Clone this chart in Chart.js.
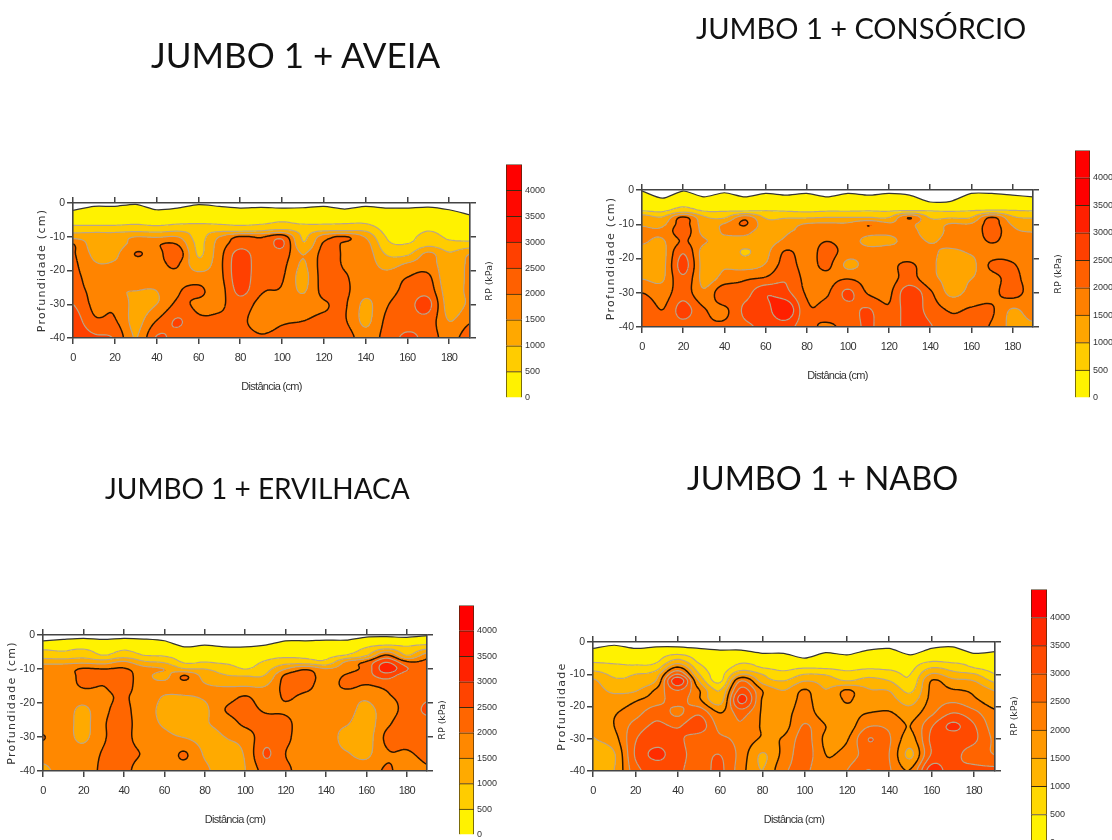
<!DOCTYPE html>
<html>
<head>
<meta charset="utf-8">
<script src="https://cdn.jsdelivr.net/npm/chart.js@4/dist/chart.umd.min.js"></script>
<style>
  html, body { margin: 0; padding: 0; background: #fff; width: 1112px; height: 840px; overflow: hidden; }
  #page { position: relative; width: 1112px; height: 840px; overflow: hidden; filter: blur(0.6px); }
  canvas { position: absolute; }
  .titulo { position: absolute; font-family: Lato, "Open Sans", sans-serif; color: #111; white-space: nowrap; transform: translateY(-50%); }
</style>
</head>
<body>
<div id="page"></div>
<script>
// distance columns (cm) and depth rows (cm) shared by the four grids
let distancias = [0,10,20,30,40,50,60,70,80,90,100,110,120,130,140,150,160,170,180,190];
let profundidades = [0,-3,-6,-8,-10,-12,-15,-18,-22,-26,-30,-35,-40];
let niveis = [0,500,1000,1500,2000,2500,3000,3500,4000,4500];

let titulos = ['JUMBO 1 + AVEIA','JUMBO 1 + CONSÓRCIO','JUMBO 1 + ERVILHACA','JUMBO 1 + NABO'];

let aveiaSuperficie = [-2.2,-1,-1,-.4,-2,-1.5,-.5,-1,-1.5,-1.3,-1.5,-1.4,-1,-1.8,-1,-1.5,-1.5,-1.2,-2,-3.5];
let aveiaRP = [
  [0,0,0,0,0,0,0,0,0,0,0,0,0,0,0,0,0,0,0,0],
  [250,250,250,280,220,250,300,280,250,260,270,260,270,250,280,200,180,220,180,150],
  [400,400,400,450,380,450,480,450,420,450,550,450,450,480,480,230,200,280,230,220],
  [800,800,800,850,800,900,850,850,800,900,1050,850,900,900,900,350,280,470,330,330],
  [1300,1300,1300,1500,1450,1500,850,1500,2050,1950,2300,950,1750,2050,1450,480,380,650,430,430],
  [2000,1250,1250,1700,1950,1950,900,1700,2250,2050,2600,1050,2050,1950,1700,620,500,800,620,620],
  [2050,1400,1400,2020,1850,2300,950,1800,2700,2150,2300,1480,2150,1950,1800,950,900,1600,1050,1480],
  [2100,1550,1550,1800,1850,2050,1150,1850,2800,2150,2150,1450,2200,1950,1800,1300,1550,1750,1150,1600],
  [2150,1750,1700,1750,1800,1900,1750,1850,2800,2100,2050,1350,2200,2050,1750,1700,2000,2100,1100,1650],
  [2200,1850,1550,1500,1500,1950,2100,1800,2650,2050,1950,1450,2150,2100,1650,1800,2150,2300,1200,1650],
  [2500,1900,1900,1350,1500,2100,1900,1900,2250,1850,1800,1750,1950,2050,1400,1950,2300,2650,1250,1600],
  [2800,2100,2050,1350,2020,2550,2100,2100,2100,1800,1950,2000,2100,2050,1400,2100,2300,2300,1500,1950],
  [2900,2600,2450,1480,2550,2300,2200,2200,2200,2050,2150,2200,2200,2300,1700,2200,2600,2300,1800,2300]
];
let aveiaCores = ['#fff200','#ffcc00','#ffa800','#ff8400','#ff6000','#ff4000','#ff1800','#ff0800','#ff0000'];

let consorcioSuperficie = [-.3,-2.4,-.3,-2,-.8,-2,-1,-1.5,-1,-2,-1,-1.5,-1,-1.5,-3.5,-3.3,-1,-1,-1.5,-2];
let consorcioRP = [
  [0,0,0,0,0,0,0,0,0,0,0,0,0,0,0,0,0,0,0,0],
  [250,250,350,250,250,220,250,240,250,230,250,240,250,240,220,220,250,260,240,220],
  [450,420,700,450,450,400,480,450,420,450,450,470,450,450,470,450,480,520,500,470],
  [1300,1050,2100,1100,950,1800,950,950,950,1000,1000,1000,1000,2000,950,950,1000,2050,1100,950],
  [1450,1400,2200,1300,1550,2050,1200,1300,1550,1600,1600,2000,1600,1600,1250,1550,1550,2200,1450,1250],
  [1600,1600,2300,1350,1550,1650,1250,1450,1600,1650,1650,1650,1600,1650,1300,1600,1600,2250,1600,1480],
  [1550,1450,2050,1550,1400,1300,1300,1600,1700,2000,1700,1400,1400,1650,1480,1600,1650,2050,1700,1600],
  [1350,1350,2450,1300,1350,950,1350,2050,1750,2200,1750,1650,1750,1650,1550,1450,1550,1750,1800,1650],
  [1300,1350,2700,1300,1450,1300,1550,2200,1800,2100,1400,1700,1850,2100,1600,1350,1350,2100,2050,1700],
  [1500,1450,2400,1350,1700,1950,2100,2450,1850,1850,2000,1800,1800,2200,1650,1400,1500,1800,2150,1700],
  [2000,1750,2300,1600,2400,2300,2950,2650,1950,1950,2600,1950,1900,2850,2100,1400,1650,1850,2200,1750],
  [2450,2000,2700,2050,1900,2600,2800,3400,2100,2150,2300,2550,2050,2800,2300,1950,2050,2050,1450,1750],
  [2400,2200,2300,2100,2100,2400,2600,2700,2150,1950,2150,2600,2100,2800,2550,2100,2100,1950,1350,1400]
];
let consorcioCores = ['#fff200','#ffcc00','#ffa500','#ff8000','#ff6000','#ff4000','#ff2000','#ff0000','#ff0000'];

let ervilhacaSuperficie = [-1.7,-1.3,-1,-1.3,-1,-1.2,-1.7,-3.5,-3,-3.5,-3.5,-3,-1.7,-1.7,-1.5,-1.5,-.6,-.5,-.7,-.2];
let ervilhacaRP = [
  [0,0,0,0,0,0,0,0,0,0,0,0,0,0,0,0,0,0,0,0],
  [350,350,350,300,350,300,280,150,180,150,130,170,260,260,280,320,400,500,450,550],
  [720,650,780,500,720,500,450,320,350,280,260,350,400,400,380,520,950,2050,1000,1750],
  [1350,1350,1400,1300,1600,1100,950,450,500,420,350,550,800,750,650,1600,2100,3000,2100,2100],
  [1800,1800,2050,2000,2050,1700,1500,1050,1000,800,500,800,1500,1950,1550,1800,2200,3300,2550,2150],
  [1700,1700,2150,2100,2200,1700,1350,2050,1300,1050,1000,1050,2100,2200,1800,2050,2300,2700,2150,2150],
  [1750,1750,2050,2000,2200,1700,1700,1750,1550,1480,1480,1500,2150,2150,1750,2100,1950,2100,2050,2200],
  [1750,1750,1750,1900,2050,1750,1480,1480,1550,1750,2020,1750,2050,1900,1750,1700,1600,1950,2100,2400],
  [1750,1750,1400,1900,2100,1700,1400,1350,1400,2000,2150,1950,1950,1800,1750,1700,1350,1800,2150,2600],
  [1750,1750,1350,1950,2150,1700,1450,1300,1450,1700,2100,2150,2100,1750,1700,1550,1250,1900,2200,2300],
  [2020,1750,1400,1950,2150,1700,1600,1480,1350,1500,1700,2300,2100,1750,1800,1300,1250,2100,2150,2200],
  [1750,1750,1700,2050,2150,1950,1700,2050,1450,1350,1550,2550,2000,1850,1750,1550,1400,1950,1950,2100],
  [1350,1750,1750,2100,2150,1700,1750,1750,1600,1250,1490,2200,2100,1750,1750,1750,1750,2050,1800,1950]
];
let ervilhacaCores = ['#fff200','#ffcc00','#ffaa00','#ff8800','#ff6600','#ff4400','#ff2200','#ff0800','#ff0000'];

let naboSuperficie = [-2,-1,-2,-1.5,-1.5,-2,-2.5,-2.5,-3.5,-3.5,-5,-3.3,-4,-2.5,-2,-4,-2,-1.5,-3.5,-3];
let naboRP = [
  [0,0,0,0,0,0,0,0,0,0,0,0,0,0,0,0,0,0,0,0],
  [200,280,200,250,280,200,150,150,60,50,0,70,50,150,200,50,200,280,50,70],
  [450,420,400,430,1200,420,250,430,380,300,350,330,300,350,320,290,480,430,380,300],
  [780,650,600,800,2100,720,280,720,500,400,480,450,400,450,420,380,1000,800,500,350],
  [1250,900,1000,1300,3000,1050,350,1500,1000,650,1000,950,650,800,700,500,1550,1200,1050,520],
  [1580,1100,1150,1550,3900,1500,400,2500,1300,1000,1480,1300,1000,1200,1000,600,2020,1650,1500,900],
  [1700,1400,1450,2100,3000,2050,1000,3200,2000,1500,2050,1520,2050,1550,1480,900,2100,2050,1900,1480],
  [1700,1700,1950,2300,2700,2100,1250,3700,1950,1650,2150,1600,2050,1650,1700,1300,2150,2400,2100,1700],
  [1700,1950,2300,2800,2400,2900,2000,2700,1950,1800,2250,1700,1800,2000,2050,1750,2400,3000,2650,2100],
  [1600,2000,2700,3100,2950,3300,2350,2450,1950,1800,2550,2000,1750,2450,2400,2000,2950,3600,3050,2250],
  [1480,1800,2950,3300,3100,2750,2600,2350,1950,2050,2700,1900,1950,3000,2550,1800,3100,3200,3100,2400],
  [1350,1450,3050,3600,3200,2800,3000,2300,1450,2150,2750,2000,2200,2700,2500,1400,3050,3100,2800,2500],
  [1350,1500,2800,3200,3100,2750,3100,2200,1500,2400,2600,2100,2500,3020,2550,2050,3800,3100,3150,3150]
];
let naboCores = ['#fff200','#ffd800','#ffb400','#ff9800','#ff7e00','#ff6400','#ff4a00','#ff2c00','#ff0000'];

const page = document.getElementById('page');

function novoCanvas(left, top, w, h) {
  const c = document.createElement('canvas');
  c.width = w; c.height = h;
  c.style.left = left + 'px'; c.style.top = top + 'px';
  c.style.width = w + 'px'; c.style.height = h + 'px';
  page.appendChild(c);
  return c;
}

function catmull(p0, p1, p2, p3, t) {
  return 0.5 * (2*p1 + (p2-p0)*t + (2*p0-5*p1+4*p2-p3)*t*t + (3*p1-p0-3*p2+p3)*t*t*t);
}

function valorEm(grade, x, d) {
  let c = Math.min(x / 10, distancias.length - 1.001);
  let i = 0;
  while (i < profundidades.length - 2 && d < profundidades[i+1]) i++;
  let r = i + (profundidades[i] - d) / (profundidades[i] - profundidades[i+1]);
  let c0 = Math.floor(c), r0 = Math.floor(r);
  let linhas = [];
  for (let k = -1; k <= 2; k++) {
    let row = grade[Math.max(0, Math.min(grade.length-1, r0+k))];
    let g = n => row[Math.max(0, Math.min(row.length-1, n))];
    linhas.push(catmull(g(c0-1), g(c0), g(c0+1), g(c0+2), c-c0));
  }
  return catmull(linhas[0], linhas[1], linhas[2], linhas[3], r-r0);
}

// paints the RP field and its isolines through the chart's own scales
function pluginContorno(grade, cores) {
  return {
    id: 'contorno',
    beforeDatasetsDraw(chart) {
      const ctx = chart.ctx, a = chart.chartArea, sx = chart.scales.x, sy = chart.scales.y;
      const w = Math.ceil(a.right - a.left), h = Math.ceil(a.bottom - a.top);
      let v = new Float32Array((w+1)*(h+1));
      for (let j = 0; j <= h; j++) {
        let d = sy.getValueForPixel(a.top + j);
        for (let i = 0; i <= w; i++) {
          v[j*(w+1)+i] = valorEm(grade, sx.getValueForPixel(a.left + i), d);
        }
      }
      ctx.save();
      ctx.beginPath(); ctx.rect(a.left, a.top, a.right-a.left, a.bottom-a.top); ctx.clip();
      for (let j = 0; j < h; j++) {
        let ini = 0, banda = -1;
        for (let i = 0; i <= w; i++) {
          let b = i < w ? Math.max(0, Math.min(cores.length-1, Math.floor(v[j*(w+1)+i] / 500))) : -2;
          if (b !== banda) {
            if (banda >= 0) { ctx.fillStyle = cores[banda]; ctx.fillRect(a.left+ini, a.top+j, i-ini, 1); }
            ini = i; banda = b;
          }
        }
      }
      const passo = 2;
      const at = (i, j) => v[Math.min(j,h)*(w+1)+Math.min(i,w)];
      for (let n = 1; n < niveis.length-1; n++) {
        let L = niveis[n];
        ctx.beginPath();
        for (let j = 0; j < h; j += passo) for (let i = 0; i < w; i += passo) {
          let q = [at(i,j), at(i+passo,j), at(i+passo,j+passo), at(i,j+passo)];
          let pts = [];
          let px = [[i,j],[i+passo,j],[i+passo,j+passo],[i,j+passo]];
          for (let e = 0; e < 4; e++) {
            let f = (e+1)%4;
            if ((q[e] < L) !== (q[f] < L)) {
              let t = (L-q[e])/(q[f]-q[e]);
              pts.push([a.left+px[e][0]+t*(px[f][0]-px[e][0]), a.top+px[e][1]+t*(px[f][1]-px[e][1])]);
            }
          }
          for (let s = 0; s+1 < pts.length; s += 2) {
            ctx.moveTo(pts[s][0], pts[s][1]); ctx.lineTo(pts[s+1][0], pts[s+1][1]);
          }
        }
        ctx.strokeStyle = L === 2000 ? '#2a1600' : '#b9a58a';
        ctx.lineWidth = L === 2000 ? 1.5 : 1.2;
        ctx.stroke();
      }
      ctx.restore();
    }
  };
}

// the scanned axis text is squeezed in x and stretched in y, so space the letters to suit
function espacar(scale, metodo, px) {
  if (scale['_orig' + metodo]) return;
  const f = scale[metodo];
  scale['_orig' + metodo] = f;
  scale[metodo] = function () {
    this.ctx.letterSpacing = px;
    f.apply(this, arguments);
    this.ctx.letterSpacing = '0px';
  };
}

const corEixo = '#444';

function eixoX(pos, extra) {
  return Object.assign({
    type: 'linear', axis: 'x', position: pos, min: 0, max: 190,
    grid: { drawOnChartArea: false, color: corEixo, tickLength: 6, lineWidth: 1.5, z: 1 },
    border: { color: corEixo, width: 1.6, z: 1 }
  }, extra);
}
function eixoY(pos, extra) {
  return Object.assign({
    type: 'linear', axis: 'y', position: pos, min: -40, max: 0,
    grid: { drawOnChartArea: false, color: corEixo, tickLength: 6, lineWidth: 1.5, z: 1 },
    border: { color: corEixo, width: 1.6, z: 1 }
  }, extra);
}

function painel(p) {
  const esq = 37, dir = 12, topo = 10, base = 56;
  const w = Math.round(p.x1 - p.x0) + esq + dir, h = Math.round(p.y1 - p.y0) + topo + base;
  const canvas = novoCanvas(Math.round(p.x0) - esq, Math.round(p.y0) - topo, w, h);
  return new Chart(canvas.getContext('2d'), {
    type: 'line',
    data: {
      labels: distancias,
      datasets: [{
        label: 'superfície',
        data: distancias.map((x, i) => ({ x: x, y: p.superficie[i] })),
        parsing: false,
        borderColor: '#333',
        borderWidth: 1.2,
        backgroundColor: '#fff',
        fill: 'end',
        pointRadius: 0,
        tension: 0.25
      }]
    },
    options: {
      responsive: false,
      animation: false,
      layout: { padding: 0 },
      plugins: { legend: { display: false }, tooltip: { enabled: false } },
      scales: {
        x: eixoX('bottom', {
          afterFit: s => {
            s.height = base;
            espacar(s, 'drawLabels', '-0.7px');
            espacar(s, 'drawTitle', '-0.7px');
          },
          ticks: { stepSize: 20, includeBounds: false, autoSkip: false, maxRotation: 0, padding: 7, color: '#333',
                   font: { family: '"Liberation Sans"', size: 11 } },
          title: { display: true, text: 'Distância (cm)', color: '#333', padding: 0,
                   font: { family: '"Liberation Sans"', size: 11 } }
        }),
        xTopo: eixoX('top', {
          afterFit: s => { s.height = topo; },
          ticks: { display: false, stepSize: 20, includeBounds: false }
        }),
        y: eixoY('left', {
          afterFit: s => {
            s.width = esq;
            espacar(s, 'drawTitle', '1.3px');
          },
          ticks: { stepSize: 10, padding: 2, color: '#333', font: { family: '"Liberation Sans"', size: 10.5 } },
          title: { display: true, text: p.rotuloY, color: '#333', padding: 0,
                   font: { family: '"DejaVu Sans"', size: 11 } }
        }),
        yDir: eixoY('right', {
          afterFit: s => { s.width = dir; },
          ticks: { display: false, stepSize: 10 }
        })
      }
    },
    plugins: [pluginContorno(p.grade, p.cores)]
  });
}

function barraCores(b) {
  const esq = 22, dir = 34;
  const w = b.x1 - b.x0 + esq + dir, h = Math.round(b.y1 - b.y0) + 14;
  const canvas = novoCanvas(b.x0 - esq, Math.round(b.y0) - 7, w, h);
  return new Chart(canvas.getContext('2d'), {
    type: 'bar',
    data: {
      labels: ['RP'],
      datasets: b.cores.map((cor, i) => ({
        data: [niveis[i+1] - niveis[i]],
        backgroundColor: cor,
        borderColor: '#3a2a10',
        borderWidth: 1,
        barPercentage: 1,
        categoryPercentage: 1,
        yAxisID: 'y'
      }))
    },
    options: {
      responsive: false,
      animation: false,
      layout: { padding: { top: 7, bottom: 7 } },
      plugins: { legend: { display: false }, tooltip: { enabled: false } },
      scales: {
        x: { stacked: true, display: false },
        y: {
          stacked: true, position: 'right', min: 0, max: 4500,
          afterFit: s => { s.width = dir; },
          grid: { display: false, drawTicks: false }, border: { display: false },
          ticks: { stepSize: 500, padding: 3, color: '#333',
                   callback: v => (v < 4500 ? String(v) : ''),
                   font: { family: '"Liberation Sans"', size: 9 } }
        },
        yTitulo: {
          type: 'linear', axis: 'y', position: 'left', min: 0, max: 4500,
          afterFit: s => { s.width = esq; },
          grid: { display: false }, border: { display: false },
          ticks: { display: false },
          title: { display: true, text: 'RP (kPa)', color: '#333', padding: 0,
                   font: { family: '"DejaVu Sans"', size: 9.5 } }
        }
      }
    }
  });
}

function titulo(texto, x, y, tam) {
  const t = document.createElement('div');
  t.className = 'titulo';
  t.textContent = texto;
  t.style.left = x + 'px'; t.style.top = y + 'px'; t.style.fontSize = tam + 'px';
  page.appendChild(t);
}

titulo(titulos[0], 151, 54, 35);
titulo(titulos[1], 696, 27, 29);
titulo(titulos[2], 105, 488, 28);
titulo(titulos[3], 687, 477, 32.5);

painel({ x0: 73, x1: 470, y0: 203, y1: 338, grade: aveiaRP, superficie: aveiaSuperficie, cores: aveiaCores, rotuloY: 'Profundidade (cm)' });
painel({ x0: 642, x1: 1033, y0: 190, y1: 327, grade: consorcioRP, superficie: consorcioSuperficie, cores: consorcioCores, rotuloY: 'Profundidade (cm)' });
painel({ x0: 43, x1: 427, y0: 635, y1: 771, grade: ervilhacaRP, superficie: ervilhacaSuperficie, cores: ervilhacaCores, rotuloY: 'Profundidade (cm)' });
painel({ x0: 593, x1: 995, y0: 642, y1: 771, grade: naboRP, superficie: naboSuperficie, cores: naboCores, rotuloY: 'Profundidade' });

barraCores({ x0: 506, x1: 522, y0: 163, y1: 398.5, cores: aveiaCores });
barraCores({ x0: 1075, x1: 1090, y0: 149, y1: 398.5, cores: consorcioCores });
barraCores({ x0: 459, x1: 474, y0: 604, y1: 836, cores: ervilhacaCores });
barraCores({ x0: 1031, x1: 1047, y0: 588, y1: 843.5, cores: naboCores });
</script>
</body>
</html>
